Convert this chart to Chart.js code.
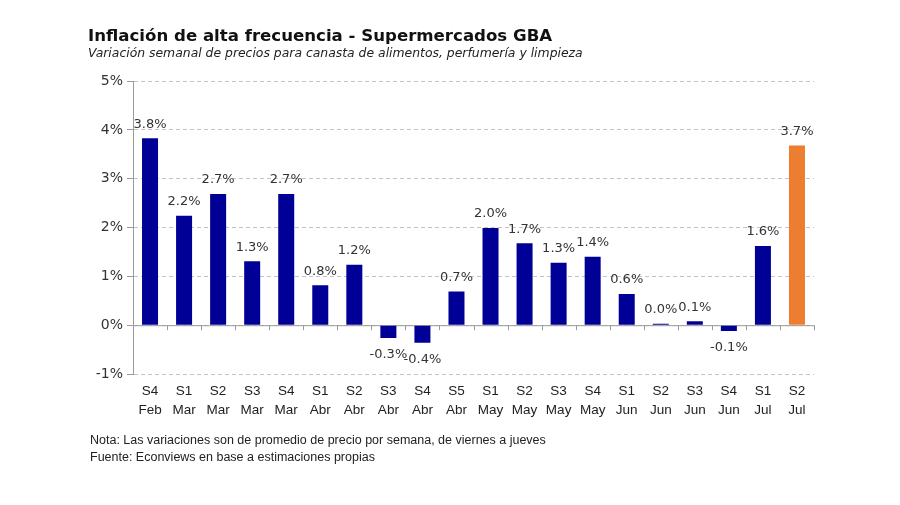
<!DOCTYPE html>
<html>
<head>
<meta charset="utf-8">
<script src="https://cdn.jsdelivr.net/npm/chart.js@4.4.1/dist/chart.umd.min.js"></script>
<style>
  body { margin: 0; background: #fff; }
  #wrap { position: relative; width: 900px; height: 505px; }
  #notes { position: absolute; left: 90px; top: 432px; font: 12.5px "Liberation Sans", Arial, sans-serif; color: #222; line-height: 17px; }
</style>
</head>
<body>
<div id="wrap">
  <canvas id="myChart" width="900" height="505"></canvas>
  <div id="notes">
    Nota: Las variaciones son de promedio de precio por semana, de viernes a jueves<br>
    Fuente: Econviews en base a estimaciones propias
  </div>
</div>
<script>
const weeks = ["S4", "S1", "S2", "S3", "S4", "S1", "S2", "S3", "S4", "S5", "S1", "S2", "S3", "S4", "S1", "S2", "S3", "S4", "S1", "S2"];
const months = ["Feb", "Mar", "Mar", "Mar", "Mar", "Abr", "Abr", "Abr", "Abr", "Abr", "May", "May", "May", "May", "Jun", "Jun", "Jun", "Jun", "Jul", "Jul"];
const values = [3.83, 2.24, 2.69, 1.31, 2.69, 0.82, 1.24, -0.26, -0.36, 0.69, 1.99, 1.68, 1.28, 1.40, 0.64, 0.03, 0.08, -0.12, 1.62, 3.68];
const yTicks = [-1, 0, 1, 2, 3, 4, 5];

const navy = "#000096";
const orange = "#ED7D31";

const labelFont = "13px 'DejaVu Sans', Verdana, sans-serif";

// zero line, little ticks under it, and the value labels
const extras = {
  id: "extras",
  beforeDatasetsDraw(chart) {
    const ctx = chart.ctx;
    const x = chart.scales.x;
    const y0 = chart.scales.y.getPixelForValue(0);
    ctx.save();
    ctx.strokeStyle = "#9a9a9a";
    ctx.lineWidth = 1;
    ctx.beginPath();
    ctx.moveTo(x.left, y0 + 0.5);
    ctx.lineTo(x.right, y0 + 0.5);
    for (let i = 1; i <= weeks.length; i++) {
      const px = Math.round(x.getPixelForValue(i - 0.5)) + 0.5;
      ctx.moveTo(px, y0);
      ctx.lineTo(px, y0 + 5);
    }
    ctx.stroke();
    ctx.restore();
  },
  afterDatasetsDraw(chart) {
    const ctx = chart.ctx;
    const meta = chart.getDatasetMeta(0);
    ctx.save();
    ctx.font = labelFont;
    ctx.fillStyle = "#333";
    ctx.textAlign = "center";
    ctx.textBaseline = "middle";
    meta.data.forEach((bar, i) => {
      const v = values[i];
      const txt = v.toFixed(1) + "%";
      if (v >= 0) ctx.fillText(txt, bar.x, bar.y - 14);
      else ctx.fillText(txt, bar.x, bar.y + 17);
    });
    ctx.restore();
  }
};

new Chart(document.getElementById("myChart"), {
  type: "bar",
  data: {
    labels: weeks.map((w, i) => [w, months[i]]),
    datasets: [
      {
        data: values,
        backgroundColor: values.map((v, i) => (i === values.length - 1 ? orange : navy)),
        borderWidth: 0,
        categoryPercentage: 1,
        barPercentage: 0.47,
      },
    ],
  },
  plugins: [extras],
  options: {
    responsive: false,
    animation: false,
    layout: { padding: { left: 88, right: 86, top: 0, bottom: 81 } },
    plugins: {
      legend: { display: false },
      tooltip: { enabled: false },
      title: {
        display: true,
        align: "start",
        text: "Inflación de alta frecuencia - Supermercados GBA",
        color: "#111",
        font: { family: "'DejaVu Sans', Verdana, sans-serif", size: 16.6, weight: "bold", lineHeight: 1.1 },
        padding: { top: 28, bottom: 0 },
      },
      subtitle: {
        display: true,
        align: "start",
        text: "Variación semanal de precios para canasta de alimentos, perfumería y limpieza",
        color: "#222",
        font: { family: "'DejaVu Sans', Verdana, sans-serif", size: 12.4, style: "italic" },
        padding: { top: 0, bottom: 20 },
      },
    },
    scales: {
      x: {
        grid: { display: false, drawTicks: false },
        border: { display: false },
        ticks: {
          color: "#222",
          padding: 8,
          maxRotation: 0,
          autoSkip: false,
          font: { family: "'Liberation Sans', Arial, sans-serif", size: 13.5, lineHeight: 1.4 },
        },
        afterFit(scale) { scale.height = 50; },
      },
      y: {
        min: -1,
        max: 5,
        afterBuildTicks(scale) { scale.ticks = yTicks.map(v => ({ value: v })); },
        grid: { color: "#c4c4c4", tickColor: "#9a9a9a", tickLength: 6 },
        border: { color: "#9a9a9a", dash: [4, 3] },
        ticks: {
          color: "#333",
          padding: 4,
          font: { family: "'DejaVu Sans', Verdana, sans-serif", size: 14 },
          callback: v => v + "%",
        },
        afterFit(scale) { scale.width = 45; },
      },
    },
  },
});
</script>
</body>
</html>
